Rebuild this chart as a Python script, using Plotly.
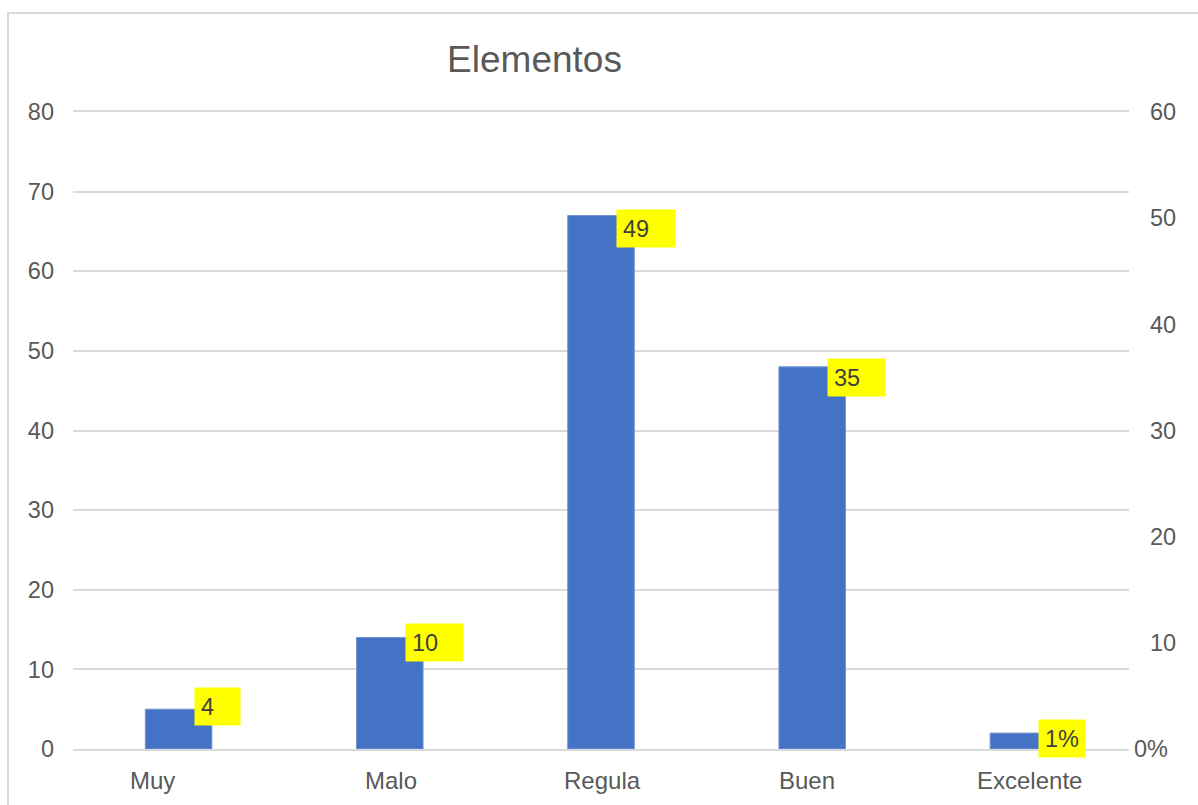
import plotly.graph_objects as go

# Category names and the two series
categories = ["Muy", "Malo", "Regula", "Buen", "Excelente"]
counts = [5, 14, 67, 48, 2]          # left axis
percent = [4, 10, 49, 35, 1]         # right axis
percent_labels = ["4", "10", "49", "35", "1%"]
left_ticks = [0, 10, 20, 30, 40, 50, 60, 70, 80]
right_ticks = [10, 20, 30, 40, 50, 60]
right_zero_label = "0%"

W, H = 1198, 805
L, R, T, B = 73, 69, 112, 56
PW, PH = W - L - R, H - T - B

TEXT = "#595959"
GRID = "#d9d9d9"
BAR = "#4472C4"
FONT = "Liberation Sans, Arial, sans-serif"

# label box widths (inner) and category label nudges, in px
box_w = [33, 45, 46, 45, 34]
cat_shift = [-26, 1, 1, -5, 6]

fig = go.Figure()
fig.add_trace(go.Bar(
    x=categories, y=counts, width=0.315,
    marker=dict(color=BAR, line=dict(color="#7393d2", width=1)),
    hoverinfo="skip", showlegend=False,
))
fig.add_trace(go.Scatter(
    x=categories, y=percent, yaxis="y2", mode="markers",
    marker=dict(opacity=0), hoverinfo="skip", showlegend=False,
))

annotations = []
for cat, val, lab, bw in zip(categories, percent, percent_labels, box_w):
    annotations.append(dict(
        x=cat, y=val, xref="x", yref="y2", text=lab, showarrow=False,
        xanchor="left", yanchor="middle", xshift=15, align="left",
        width=bw, height=25, borderpad=6, bgcolor="#FFFF00",
        font=dict(family=FONT, size=23.5, color="#404040"),
    ))
for cat, dx in zip(categories, cat_shift):
    annotations.append(dict(
        x=cat, y=0, xref="x", yref="paper", text=cat, showarrow=False,
        xanchor="center", yanchor="middle", xshift=dx, yshift=-31,
        font=dict(family=FONT, size=24, color=TEXT),
    ))
annotations.append(dict(
    x=1, y=0, xref="paper", yref="y2", text=right_zero_label, showarrow=False,
    xanchor="left", yanchor="middle", xshift=3,
    font=dict(family=FONT, size=23.5, color=TEXT),
))

fig.update_layout(
    width=W, height=H,
    margin=dict(l=L, r=R, t=T, b=B, pad=0),
    paper_bgcolor="white", plot_bgcolor="white",
    font=dict(family=FONT, color=TEXT),
    title=dict(text="Elementos", x=534.5 / W, xanchor="center",
               y=1 - 59 / H, yanchor="middle", yref="container",
               font=dict(family=FONT, size=37, color=TEXT)),
    # mirrored x-axis line supplies the gridlines at 0 and at the top
    xaxis=dict(showticklabels=False, showgrid=False, zeroline=False,
               showline=True, mirror=True, linecolor=GRID, linewidth=1.5,
               ticks=""),
    yaxis=dict(range=[0, 80], tickvals=left_ticks, showgrid=True,
               gridcolor=GRID, gridwidth=1.5, zeroline=False, ticks="",
               ticklabelstandoff=18,
               tickfont=dict(family=FONT, size=23.5, color=TEXT)),
    yaxis2=dict(range=[0, 60], tickvals=right_ticks, overlaying="y",
                side="right", showgrid=False, zeroline=False, ticks="",
                ticklabelstandoff=20,
                tickfont=dict(family=FONT, size=23.5, color=TEXT)),
    annotations=annotations,
    shapes=[dict(type="rect", xref="paper", yref="paper",
                 x0=(8 - L) / PW, x1=1.2, y0=-0.3, y1=(H - B - 13) / PH,
                 line=dict(color=GRID, width=2), fillcolor="rgba(0,0,0,0)",
                 layer="below")],
)

fig.write_html("out.html")
